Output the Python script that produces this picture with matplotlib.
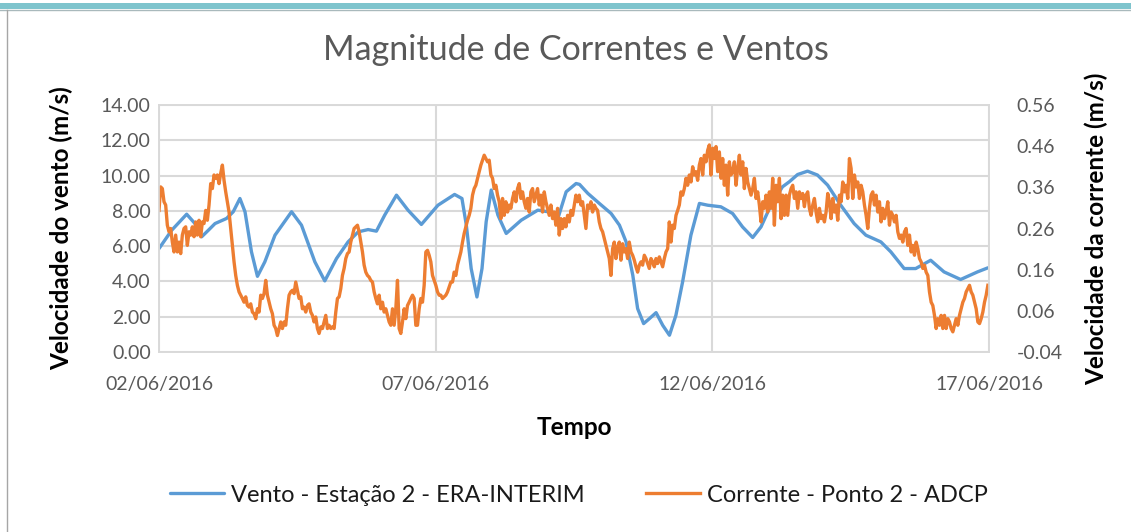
import numpy as np
import pandas as pd
import matplotlib
matplotlib.use("Agg")
import matplotlib.pyplot as plt
from matplotlib.lines import Line2D
from matplotlib.patches import Rectangle

# Período e rótulos do eixo do tempo
inicio = pd.Timestamp("2016-06-02 00:00")
fim = pd.Timestamp("2016-06-17 00:00")
datas_eixo = ["02/06/2016", "07/06/2016", "12/06/2016", "17/06/2016"]

# Vento - Estação 2 - ERA-INTERIM: horas desde o início e velocidade (m/s)
vento_horas = [
    0.0, 5.5, 12.0, 15.6, 18.5, 21.4, 24.3, 29.3, 32.2, 35.1, 37.3, 40.1,
    42.7, 45.9, 50.3, 57.5, 61.8, 67.6, 71.9, 77.0, 82.0, 86.4, 90.7, 94.3,
    97.9, 103.0, 108.0, 113.8, 121.0, 128.2, 131.4, 133.3, 135.4, 137.9,
    140.1, 141.9, 144.1, 147.0, 150.6, 157.1, 164.3, 168.7, 173.0, 176.6,
    180.9, 182.4, 186.0, 191.0, 196.1, 199.7, 202.6, 205.5, 207.6, 210.2,
    212.7, 215.6, 218.5, 221.4, 224.2, 227.1, 230.7, 234.4, 238.0, 243.7,
    248.8, 253.1, 257.5, 261.1, 265.4, 270.4, 273.4, 277.0, 281.3, 285.6,
    290.0, 295.7, 301.5, 306.6, 313.1, 317.4, 323.2, 328.2, 334.7, 340.5,
    347.7, 355.0, 359.5,
]
vento_vel = [
    5.86, 6.90, 7.81, 7.28, 6.53, 6.90, 7.28, 7.57, 7.95, 8.70, 7.95, 5.68,
    4.29, 5.11, 6.62, 7.95, 7.19, 5.11, 4.03, 5.30, 6.24, 6.81, 6.94, 6.85,
    7.76, 8.89, 8.04, 7.23, 8.32, 8.93, 8.70, 7.19, 4.73, 3.12,
    4.73, 7.38, 9.18, 7.76, 6.72, 7.47, 8.04, 7.95, 7.57, 9.08,
    9.55, 9.50, 8.99, 8.42, 7.85, 7.19, 6.24, 4.35, 2.46, 1.61,
    1.89, 2.23, 1.51, 0.95, 2.08, 3.97, 6.62, 8.42, 8.32, 8.23,
    7.85, 7.09, 6.49, 7.09, 8.32, 9.36, 9.65, 10.06, 10.25, 10.03,
    9.46, 8.32, 7.28, 6.62, 6.24, 5.68, 4.73, 4.73, 5.20, 4.54,
    4.11, 4.54, 4.77,
]

# Corrente - Ponto 2 - ADCP: velocidade (m/s), amostragem regular no período
corrente_vel = [
    0.304, 0.361, 0.357, 0.325, 0.317, 0.268, 0.252, 0.260, 0.227, 0.203,
    0.244, 0.203, 0.227, 0.199, 0.244, 0.260, 0.264, 0.219, 0.252, 0.244,
    0.264, 0.240, 0.276, 0.244, 0.280, 0.240, 0.276, 0.272, 0.304, 0.280,
    0.317, 0.369, 0.357, 0.390, 0.382, 0.390, 0.369, 0.394, 0.414, 0.377,
    0.349, 0.325, 0.300, 0.260, 0.219, 0.179, 0.146, 0.122, 0.106, 0.098,
    0.090, 0.081, 0.094, 0.073, 0.069, 0.077, 0.057, 0.053, 0.041, 0.065,
    0.057, 0.098, 0.090, 0.102, 0.134, 0.098, 0.081, 0.065, 0.053, 0.025,
    0.017, 0.000, 0.017, 0.033, 0.017, 0.033, 0.025, 0.065, 0.098, 0.106,
    0.110, 0.102, 0.130, 0.110, 0.090, 0.094, 0.065, 0.069, 0.057, 0.073,
    0.077, 0.057, 0.049, 0.033, 0.045, 0.017, 0.005, 0.021, 0.017, 0.033,
    0.049, 0.017, 0.025, 0.017, 0.021, 0.017, 0.057, 0.090, 0.094, 0.114,
    0.146, 0.163, 0.187, 0.199, 0.203, 0.227, 0.244, 0.260, 0.264, 0.268,
    0.252, 0.227, 0.203, 0.171, 0.154, 0.146, 0.142,
    0.134, 0.130, 0.106, 0.090, 0.077, 0.098, 0.065, 0.081, 0.057, 0.065,
    0.049, 0.033, 0.025, 0.065, 0.025, 0.065, 0.134, 0.017, 0.005, 0.033,
    0.065, 0.041, 0.073, 0.081, 0.090, 0.098, 0.090, 0.025, 0.025, 0.065,
    0.090, 0.081, 0.122, 0.203, 0.207, 0.195, 0.179, 0.146, 0.134, 0.122,
    0.106, 0.098, 0.098, 0.090, 0.094, 0.098, 0.106, 0.118, 0.130, 0.130,
    0.154, 0.146, 0.171, 0.187, 0.203, 0.227, 0.248, 0.264, 0.280, 0.292,
    0.309, 0.341, 0.357, 0.365, 0.382, 0.398, 0.414, 0.426, 0.438, 0.430,
    0.422, 0.426, 0.390, 0.382, 0.357, 0.365, 0.341, 0.325, 0.284, 0.333,
    0.292, 0.325, 0.300, 0.317, 0.309, 0.333, 0.349, 0.325, 0.357, 0.369,
    0.333, 0.349, 0.325, 0.309, 0.333, 0.300, 0.349, 0.357, 0.325, 0.341,
    0.357, 0.317, 0.341, 0.300, 0.349, 0.325, 0.309, 0.292, 0.317, 0.284,
    0.300, 0.268, 0.309, 0.244, 0.284, 0.260, 0.284, 0.264, 0.292, 0.276,
    0.304, 0.292, 0.317, 0.341, 0.325, 0.341,
    0.317, 0.325, 0.292, 0.260, 0.317, 0.309, 0.325, 0.300, 0.317, 0.309,
    0.304, 0.276, 0.260, 0.252, 0.236, 0.219, 0.203, 0.187, 0.146, 0.211,
    0.227, 0.187, 0.215, 0.227, 0.183, 0.223, 0.203, 0.211, 0.187, 0.227,
    0.203, 0.195, 0.183, 0.167, 0.154, 0.171, 0.179, 0.171, 0.195, 0.187,
    0.175, 0.163, 0.187, 0.179, 0.167, 0.187, 0.175, 0.191, 0.179, 0.167,
    0.187, 0.203, 0.211, 0.276, 0.227, 0.268, 0.260, 0.292, 0.304, 0.317,
    0.349, 0.341, 0.357, 0.382, 0.365, 0.390, 0.373, 0.410, 0.390, 0.398,
    0.377, 0.414, 0.430, 0.390, 0.438, 0.422, 0.450, 0.463, 0.390, 0.455,
    0.430, 0.459, 0.398, 0.446, 0.382, 0.430, 0.365, 0.414, 0.341, 0.422,
    0.390, 0.398, 0.422, 0.365, 0.406, 0.438, 0.390, 0.422, 0.357, 0.406,
    0.373, 0.357, 0.341, 0.357, 0.382, 0.333, 0.349, 0.317, 0.276, 0.325,
    0.309, 0.341, 0.300, 0.349, 0.309, 0.382, 0.268, 0.365, 0.325, 0.382,
    0.284, 0.341, 0.292, 0.341, 0.292, 0.341,
    0.357, 0.365, 0.333, 0.349, 0.309, 0.349, 0.333, 0.345, 0.313, 0.341,
    0.349, 0.309, 0.292, 0.317, 0.333, 0.300, 0.276, 0.309, 0.284, 0.292,
    0.276, 0.300, 0.345, 0.325, 0.284, 0.333, 0.300, 0.317, 0.280, 0.341,
    0.325, 0.373, 0.349, 0.365, 0.333, 0.430, 0.406, 0.333, 0.390, 0.361,
    0.373, 0.333, 0.365, 0.349, 0.317, 0.292, 0.260, 0.309, 0.341, 0.349,
    0.317, 0.341, 0.300, 0.325, 0.276, 0.309, 0.284, 0.300, 0.325, 0.268,
    0.300, 0.292, 0.276, 0.292, 0.252, 0.236, 0.244, 0.227, 0.252, 0.260,
    0.219, 0.244, 0.203, 0.219, 0.195, 0.227, 0.211, 0.187, 0.179, 0.163,
    0.171, 0.154, 0.146, 0.106, 0.081, 0.073, 0.049, 0.017, 0.041, 0.025,
    0.049, 0.017, 0.049, 0.017, 0.041, 0.033, 0.017, 0.009, 0.025, 0.041,
    0.025, 0.049, 0.065, 0.081, 0.090, 0.106, 0.114, 0.122, 0.106, 0.098,
    0.081, 0.065, 0.033, 0.029, 0.041, 0.057, 0.081, 0.098, 0.122,
]
corrente_horas = np.linspace(0.0, 359.5, len(corrente_vel))

vento_t = inicio + pd.to_timedelta(vento_horas, unit="h")
corrente_t = inicio + pd.to_timedelta(corrente_horas, unit="h")

AZUL = "#5B9BD5"
LARANJA = "#ED7D31"
CINZA_TXT = "#595959"
GRADE = "#D9D9D9"
FONTE = "Lato"

plt.rcParams["font.family"] = [FONTE, "DejaVu Sans"]

fig = plt.figure(figsize=(11.31, 5.32), dpi=100)
fig.patch.set_facecolor("white")

# Moldura do quadro
fig.add_artist(Rectangle((0, 1 - 9 / 532), 1, 6 / 532, transform=fig.transFigure,
                         facecolor="#7EC4CD", edgecolor="none"))
fig.add_artist(Line2D([0, 1], [1 - 10 / 532] * 2, transform=fig.transFigure,
                      color="#A9B9BC", lw=1))
fig.add_artist(Line2D([7 / 1131] * 2, [0, 1 - 10 / 532], transform=fig.transFigure,
                      color="#A6A6A6", lw=1))

ax = fig.add_axes([159 / 1131, 180 / 532, 830 / 1131, 247 / 532])
ax2 = ax.twinx()

ax.plot(vento_t, vento_vel, color=AZUL, lw=2.4, solid_joinstyle="round",
        solid_capstyle="round", label="Vento - Estação 2 - ERA-INTERIM")
ax2.plot(corrente_t, corrente_vel, color=LARANJA, lw=2.4, solid_joinstyle="round",
         label="Corrente - Ponto 2 - ADCP")

ax.set_xlim(inicio, fim)
ax.set_ylim(0, 14)
ax2.set_ylim(-0.04, 0.56)

ax.set_yticks(np.arange(0, 15, 2))
ax.set_yticklabels([f"{v:.2f}" for v in np.arange(0, 15, 2)])
dir_ticks = np.round(np.arange(-0.04, 0.57, 0.10), 2)
ax2.set_yticks(dir_ticks)
ax2.set_yticklabels([f"{v:.2f}" for v in dir_ticks])

xt = [pd.Timestamp(f"2016-06-{d:02d}") for d in (2, 7, 12, 17)]
ax.set_xticks(xt)
ax.set_xticklabels(datas_eixo)

ax.grid(True, color=GRADE, lw=1.5)
ax.set_axisbelow(True)
for a in (ax, ax2):
    for s in a.spines.values():
        s.set_color(GRADE)
        s.set_linewidth(1.2)
ax.tick_params(axis="both", length=0, labelsize=14, labelcolor=CINZA_TXT)
ax.tick_params(axis="y", pad=6)
ax.tick_params(axis="x", pad=17)
ax2.tick_params(axis="y", length=0, labelsize=14, labelcolor=CINZA_TXT, pad=20)

ax.set_xlabel("Tempo", fontsize=17.5, fontweight="bold", color="black", labelpad=17)
ax.set_ylabel("Velocidade do vento (m/s)", fontsize=17.5, fontweight="bold",
              color="black", labelpad=20)
ax2.set_ylabel("Velocidade da corrente (m/s)", fontsize=17.5, fontweight="bold",
               color="black", labelpad=16)

fig.text(576 / 1131, 1 - 50 / 532, "Magnitude de Correntes e Ventos",
         ha="center", va="center", fontsize=24.5, color=CINZA_TXT)

h1, l1 = ax.get_legend_handles_labels()
h2, l2 = ax2.get_legend_handles_labels()
fig.legend(h1 + h2, l1 + l2, loc="center", bbox_to_anchor=(579 / 1131, 1 - 495 / 532),
           ncol=2, frameon=False, fontsize=17, handlelength=2.3, handletextpad=0.3,
           columnspacing=2.6, labelcolor="#1A1A1A")

fig.savefig("out.png", dpi=100, facecolor="white")
